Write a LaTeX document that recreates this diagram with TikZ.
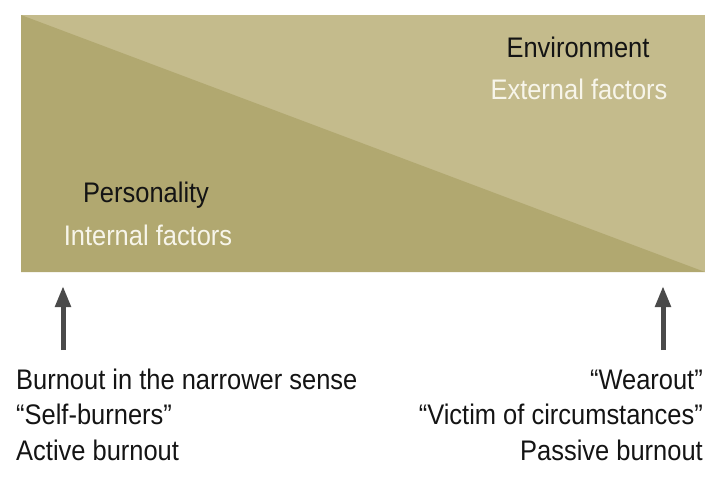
\documentclass[tikz,border=0pt]{standalone}
\usepackage{fontspec}
\setmainfont[FakeStretch=0.9]{Liberation Sans}
\usetikzlibrary{arrows.meta}
\definecolor{panelDark}{HTML}{B1A870}
\definecolor{panelLight}{HTML}{C4BB8C}
\definecolor{arrowGray}{HTML}{4A4A4A}
\definecolor{paleText}{HTML}{F7F5EA}
\begin{document}
\begin{tikzpicture}[x=1pt,y=-1pt,
  label/.style={inner sep=0pt,font=\fontsize{28.3}{32}\selectfont},
  darklabel/.style={label,text=black!92},
  palelabel/.style={label,text=paleText},
  pointer/.style={arrowGray,line width=5pt,-{Triangle[length=21pt,width=15pt]}}]
\useasboundingbox (0,0) rectangle (724,479);
% two-tone panel split by its diagonal
\fill[panelLight] (21,15) rectangle (705,272);
\fill[panelDark] (21,15) -- (705,272) -- (21,272) -- cycle;
% panel labels
\node[darklabel,anchor=base] (env) at (578,57) {Environment};
\node[palelabel,anchor=base] (ext) at (579,99) {External factors};
\node[darklabel,anchor=base] (pers) at (146,202) {Personality};
\node[palelabel,anchor=base] (int) at (148,245) {Internal factors};
% captions under the panel
\node[darklabel,anchor=base west] (l1) at (16,389) {Burnout in the narrower sense};
\node[darklabel,anchor=base west] (l2) at (16,424) {``Self-burners''};
\node[darklabel,anchor=base west] (l3) at (16,460) {Active burnout};
\node[darklabel,anchor=base east] (r1) at (703,389) {``Wearout''};
\node[darklabel,anchor=base east] (r2) at (703,424) {``Victim of circumstances''};
\node[darklabel,anchor=base east] (r3) at (703,460) {Passive burnout};
% arrow tails and heads
\coordinate (la) at (63,350);
\coordinate (lt) at (63,286);
\coordinate (ra) at (663,350);
\coordinate (rt) at (663,286);
\draw[pointer] (la) -- (lt);
\draw[pointer] (ra) -- (rt);
\end{tikzpicture}
\end{document}
